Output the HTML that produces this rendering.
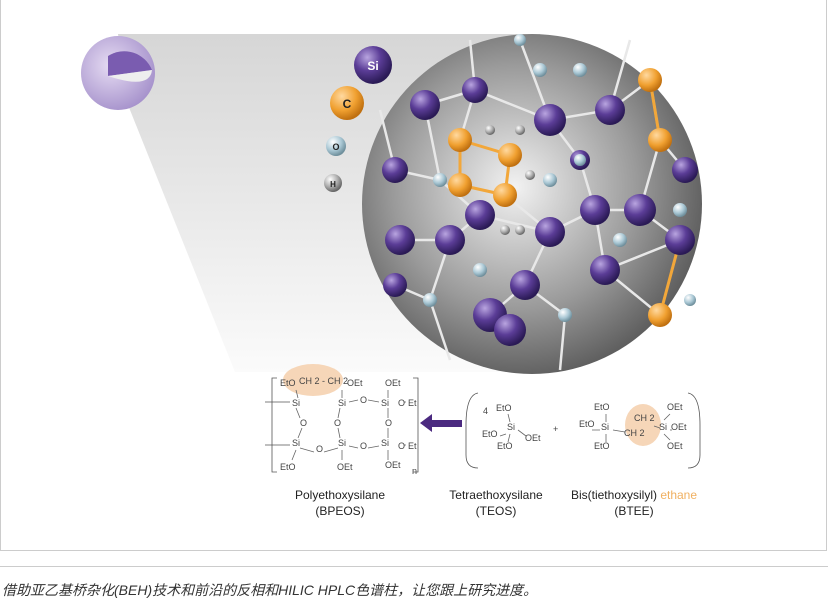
<!DOCTYPE html>
<html><head><meta charset="utf-8"><style>
body{margin:0;width:828px;height:604px;background:#fff;overflow:hidden;font-family:"Liberation Sans",sans-serif}
.cap{position:absolute;left:2px;top:580px;font-size:14px;font-style:italic;color:#333;font-family:"Liberation Sans","Noto Sans CJK SC",sans-serif}
</style></head><body>
<div style="position:absolute;left:0;top:0;width:827px;height:551px;border:1px solid #ccc;border-top:none;box-sizing:border-box"></div>
<div style="position:absolute;left:0;top:566px;width:828px;border-top:1px solid #ccc"></div>
<svg width="828" height="552" style="position:absolute;left:0;top:0">
<defs>
<linearGradient id="cone" x1="0" y1="0" x2="0" y2="1"><stop offset="0" stop-color="#d6d6d6"/><stop offset="1" stop-color="#fbfbfb"/></linearGradient>
<radialGradient id="big" cx="0.45" cy="0.45" r="0.6"><stop offset="0" stop-color="#f2f2f2"/><stop offset="0.6" stop-color="#9a9a9a"/><stop offset="1" stop-color="#555"/></radialGradient>
<radialGradient id="pu" cx="0.35" cy="0.3" r="0.7"><stop offset="0" stop-color="#b9a5e0"/><stop offset="0.5" stop-color="#5b3d97"/><stop offset="1" stop-color="#2a1a55"/></radialGradient>
<radialGradient id="or" cx="0.35" cy="0.3" r="0.7"><stop offset="0" stop-color="#ffd9a0"/><stop offset="0.6" stop-color="#f0a030"/><stop offset="1" stop-color="#c07010"/></radialGradient>
<radialGradient id="bl" cx="0.35" cy="0.3" r="0.7"><stop offset="0" stop-color="#fff"/><stop offset="0.6" stop-color="#a9c7d4"/><stop offset="1" stop-color="#6f8f9c"/></radialGradient>
<radialGradient id="gr" cx="0.35" cy="0.3" r="0.7"><stop offset="0" stop-color="#fff"/><stop offset="0.6" stop-color="#aaa"/><stop offset="1" stop-color="#666"/></radialGradient>
<radialGradient id="sm" cx="0.4" cy="0.4" r="0.7"><stop offset="0" stop-color="#e6dcf3"/><stop offset="1" stop-color="#a08bc8"/></radialGradient>
</defs>
<polygon points="118,34 540,34 540,372 235,372 128,105" fill="url(#cone)"/>
<circle cx="118" cy="73" r="37" fill="url(#sm)"/>
<path d="M108,56 A30,30 0 0 1 152,70 L108,76 Z" fill="#7a5cb0"/>
<path d="M108,76 L152,70 Q150,90 108,76Z" fill="#eee"/>
<circle cx="532" cy="204" r="170" fill="url(#big)"/>
<g stroke="#e8e8e8" stroke-width="2.5" fill="none">
<path d="M425,105 L475,90 L550,120 L610,110 L650,80 M425,105 L440,180 L395,170 M440,180 L480,215 L450,240 L400,240 M480,215 L550,232 L595,210 L640,210 L680,240 M550,232 L525,285 L490,315 L510,330 M595,210 L605,270 L660,315 M525,285 L565,315 M450,240 L430,300 L395,285 M550,120 L580,160 L595,210 M475,90 L460,140 L510,155 M640,210 L660,140 L685,170 M605,270 L680,240 M660,140 L650,80 M510,155 L505,195 L550,232 M395,170 L380,110 M610,110 L630,40 M550,120 L520,40 M475,90 L470,40 M565,315 L560,370 M430,300 L450,360"/>
</g>
<g stroke="#f2a73a" stroke-width="3" fill="none"><path d="M460,140 L510,155 L505,195 L460,185 Z M650,80 L660,140 M660,315 L680,240"/></g>
<g fill="url(#pu)">
<circle cx="425" cy="105" r="15"/><circle cx="475" cy="90" r="13"/><circle cx="550" cy="120" r="16"/><circle cx="610" cy="110" r="15"/>
<circle cx="395" cy="170" r="13"/><circle cx="480" cy="215" r="15"/><circle cx="450" cy="240" r="15"/><circle cx="400" cy="240" r="15"/>
<circle cx="550" cy="232" r="15"/><circle cx="595" cy="210" r="15"/><circle cx="640" cy="210" r="16"/><circle cx="680" cy="240" r="15"/>
<circle cx="525" cy="285" r="15"/><circle cx="490" cy="315" r="17"/><circle cx="510" cy="330" r="16"/><circle cx="605" cy="270" r="15"/>
<circle cx="395" cy="285" r="12"/><circle cx="685" cy="170" r="13"/><circle cx="580" cy="160" r="10"/>
</g>
<g fill="url(#or)"><circle cx="460" cy="140" r="12"/><circle cx="510" cy="155" r="12"/><circle cx="505" cy="195" r="12"/><circle cx="460" cy="185" r="12"/><circle cx="650" cy="80" r="12"/><circle cx="660" cy="140" r="12"/><circle cx="660" cy="315" r="12"/></g>
<g fill="url(#bl)"><circle cx="540" cy="70" r="7"/><circle cx="580" cy="70" r="7"/><circle cx="440" cy="180" r="7"/><circle cx="430" cy="300" r="7"/><circle cx="565" cy="315" r="7"/><circle cx="580" cy="160" r="6"/><circle cx="620" cy="240" r="7"/><circle cx="550" cy="180" r="7"/><circle cx="480" cy="270" r="7"/><circle cx="680" cy="210" r="7"/><circle cx="690" cy="300" r="6"/><circle cx="520" cy="40" r="6"/></g>
<g fill="url(#gr)"><circle cx="490" cy="130" r="5"/><circle cx="520" cy="130" r="5"/><circle cx="530" cy="175" r="5"/><circle cx="520" cy="230" r="5"/><circle cx="505" cy="230" r="5"/></g>
<circle cx="373" cy="65" r="19" fill="url(#pu)"/><text x="373" y="70" font-size="12" font-weight="bold" fill="#fff" text-anchor="middle">Si</text>
<circle cx="347" cy="103" r="17" fill="url(#or)"/><text x="347" y="108" font-size="12" font-weight="bold" fill="#222" text-anchor="middle">C</text>
<circle cx="336" cy="146" r="10" fill="url(#bl)"/><text x="336" y="150" font-size="9" font-weight="bold" fill="#222" text-anchor="middle">O</text>
<circle cx="333" cy="183" r="9" fill="url(#gr)"/><text x="333" y="187" font-size="8" font-weight="bold" fill="#222" text-anchor="middle">H</text>
<!-- chemistry -->
<ellipse cx="313" cy="380" rx="30" ry="16" fill="#f6d6b8"/>
<ellipse cx="643" cy="425" rx="18" ry="21" fill="#f6d6b8"/>
<g stroke="#666" fill="none" stroke-width="0.8">
<path d="M296,390 L298,398 M342,390 L342,398 M388,390 L388,398 M349,402 L358,400 M368,400 L379,402 M388,408 L388,418 M296,408 L300,418 M340,408 L338,418 M388,428 L388,438 M302,428 L298,438 M338,428 L340,438 M300,448 L314,452 M324,452 L338,448 M349,446 L358,448 M368,448 L379,446 M296,450 L292,460 M342,450 L342,460 M388,450 L388,460 M404,402 L406,402 M404,445 L406,445"/>
<path d="M508,414 L510,422 M506,434 L500,436 M518,430 L526,436 M510,434 L508,442 M606,414 L606,422 M600,430 L592,430 M606,434 L606,442 M613,430 L625,432 M654,426 L660,428 M664,420 L670,414 M664,434 L670,440 M670,430 L672,430"/>
</g>
<g font-size="9" fill="#444">
<text x="280" y="386">EtO</text><text x="299" y="384">CH 2 - CH 2</text><text x="347" y="386">OEt</text><text x="385" y="386">OEt</text>
<text x="292" y="406">Si</text><text x="338" y="406">Si</text><text x="360" y="403">O</text><text x="381" y="406">Si</text><text x="398" y="406">O</text><text x="408" y="406">Et</text>
<text x="300" y="426">O</text><text x="334" y="426">O</text><text x="385" y="426">O</text>
<text x="292" y="446">Si</text><text x="316" y="452">O</text><text x="338" y="446">Si</text><text x="360" y="449">O</text><text x="381" y="446">Si</text><text x="398" y="449">O</text><text x="408" y="449">Et</text>
<text x="280" y="470">EtO</text><text x="337" y="470">OEt</text><text x="385" y="468">OEt</text><text x="412" y="474">n</text>
<text x="483" y="414">4</text><text x="496" y="411">EtO</text><text x="482" y="437">EtO</text><text x="507" y="430">Si</text><text x="525" y="441">OEt</text><text x="497" y="449">EtO</text><text x="553" y="432">+</text>
<text x="594" y="410">EtO</text><text x="579" y="427">EtO</text><text x="601" y="430">Si</text><text x="594" y="449">EtO</text><text x="634" y="421">CH 2</text><text x="624" y="436">CH 2</text><text x="659" y="430">Si</text><text x="667" y="410">OEt</text><text x="671" y="430">OEt</text><text x="667" y="449">OEt</text>
</g>
<g stroke="#555" fill="none" stroke-width="0.8">
<path d="M277,378 L272,378 L272,472 L277,472 M413,378 L418,378 L418,472 L413,472 M265,402 L290,402 M265,445 L290,445"/>
<path d="M478,393 Q466,395 466,425 L466,455 Q466,468 478,468 M688,393 Q700,395 700,425 L700,455 Q700,468 688,468"/>
</g>
<polygon points="420,423 432,414 432,420 462,420 462,427 432,427 432,432" fill="#4b2a80"/>
<g font-size="12" fill="#222" text-anchor="middle">
<text x="340" y="499">Polyethoxysilane</text><text x="340" y="515">(BPEOS)</text>
<text x="496" y="499">Tetraethoxysilane</text><text x="496" y="515">(TEOS)</text>
<text x="634" y="499">Bis(tiethoxysilyl) <tspan fill="#f0b060">ethane</tspan></text><text x="634" y="515">(BTEE)</text>
</g>
</svg>
<div class="cap">借助亚乙基桥杂化(BEH)技术和前沿的反相和HILIC HPLC色谱柱，让您跟上研究进度。</div>
</body></html>
